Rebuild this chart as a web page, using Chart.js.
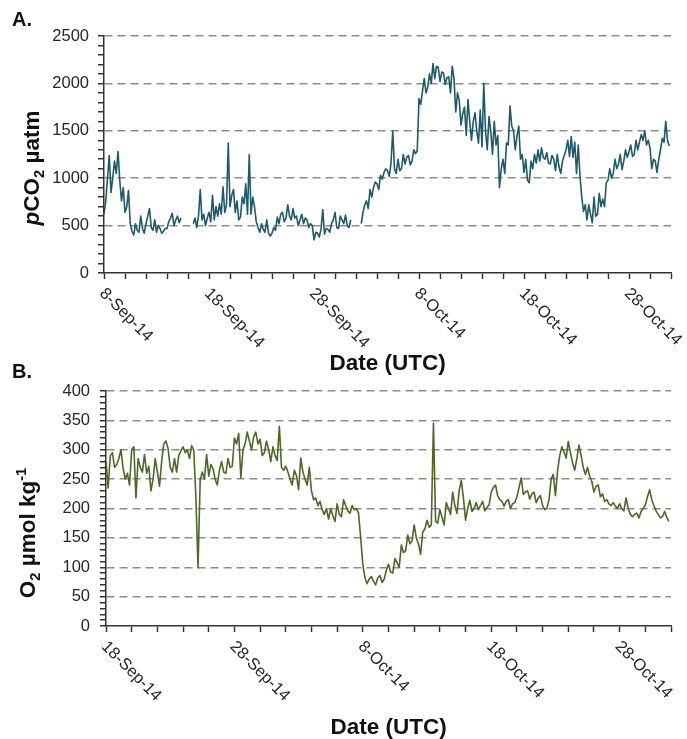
<!DOCTYPE html>
<html>
<head>
<meta charset="utf-8">
<title>pCO2 and O2 time series</title>
<script src="https://cdn.jsdelivr.net/npm/chart.js@4.4.1/dist/chart.umd.min.js"></script>
<style>
  html, body { margin: 0; padding: 0; background: #ffffff; }
  #wrap { position: relative; width: 687px; height: 739px; overflow: hidden; }
  .panel { position: absolute; left: 0; width: 687px; }
  #panelA { top: 0; height: 380px; }
  #panelB { top: 355px; height: 384px; }
</style>
</head>
<body>
<div id="wrap">
  <div class="panel" id="panelA"><canvas id="chartA"></canvas></div>
  <div class="panel" id="panelB"><canvas id="chartB"></canvas></div>
</div>
<script>
// ---- Data -----------------------------------------------------------------
// Readings every 4 hours (6 per day) starting at 00:00 UTC of the start date.
// Each row below is one day. null marks periods without data.
const sampleStepDays = 1 / 6;

// Panel A: seawater pCO2 (µatm), from 8-Sep-14
const pco2Start = '8-Sep-14';
const pco2 = [
  620, 760, 1000, 1240, 850, 1000,
  1180, 1050, 1280, 980, 760, 900,
  640, 700, 870, 520, 440, 400,
  520, 450, 430, 600, 470, 420,
  520, 600, 680, 480, 450, 560,
  430, 500, 470, 420, 440, 470,
  470, 540, 580, 630, 500, 560,
  600, 530, 580, null, null, null,
  null, null, null, 520, 580, 480,
  600, 880, 560, 620, 500, 580,
  640, 540, 820, 560, 700, 600,
  730, 620, 910, 640, 720, 1370,
  700, 820, 880, 640, 760, 560,
  590, 800, 730, 940, 620, 1250,
  620, 800, 700, 540, 480, 430,
  520, 460, 430, 560, 420, 390,
  420, 480, 450, 590, 520, 620,
  640, 540, 580, 720, 600, 560,
  680, 580, 600, 500, 560, 620,
  520, 580, 560, 480, 520, 500,
  350, 430, 420, 380, 460, 670,
  410, 470, 460, 430, 520, 560,
  640, 480, 470, 600, 560, 520,
  610, 500, 480, 560, null, null,
  null, null, null, 520, 640, 720,
  760, 680, 880, 800, 900, 960,
  940, 880, 1030, 990, 1060, 1100,
  1080, 1020, 1160, 1500, 1100, 1050,
  1200, 1080, 1100, 1250, 1150, 1220,
  1240, 1140, 1180, 1300, 1260, 1290,
  1840, 1780, 1920, 2050, 1900, 1960,
  2100, 2000, 2210, 2050, 2180, 2170,
  2020, 2120, 2110, 1990, 2060, 2070,
  1900, 2180, 2050, 1700, 1900, 1820,
  1560, 1680, 1750, 1450, 1830, 1600,
  1400, 1600, 1690, 1500, 1370, 1720,
  1330, 2000, 1500, 1300, 1650, 1500,
  1250, 1600, 1350, 1450, 900, 1100,
  1200, 1050, 1370, 1350, 1760, 1550,
  1500, 1300, 1450, 1550, 1200, 1250,
  1060, 1200, 980, 950, 1180, 1100,
  1250, 1160, 1300, 1180, 1320, 1220,
  1200, 1270, 1160, 1150, 1240, 1200,
  1080, 1250, 1120, 1050, 1180, 1240,
  1300, 1400, 1230, 1440, 1220, 1380,
  1050, 1350, 1020, 800, 650, 720,
  560, 720, 620, 530, 800, 600,
  620, 840, 700, 780, 700, 950,
  980, 1100, 1000, 1050, 1200, 1100,
  1150, 1250, 1090, 1180, 1300, 1220,
  1280, 1350, 1230, 1250, 1400, 1300,
  1380, 1460, 1400, 1500, 1350, 1400,
  1320, 1100, 1200, 1180, 1060, 1200,
  1300, 1420, 1380, 1600, 1400, 1340
];

// Panel B: dissolved oxygen (µmol kg-1), from 18-Sep-14
const o2Start = '18-Sep-14';
const o2 = [
  280, 235, 290, 295, 270, 275,
  285, 300, 268, 250, 260, 240,
  300, 305, 218, 285, 270, 262,
  292, 260, 272, 230, 250, 285,
  262, 238, 280, 310, 315, 302,
  270, 262, 285, 262, 290, 298,
  305, 295, 300, 285, 307, 300,
  220, 99, 248, 262, 250, 292,
  255, 275, 268, 250, 240, 265,
  280, 262, 260, 285, 270, 272,
  320, 310, 328, 252, 300, 310,
  330, 315, 300, 322, 330, 310,
  318, 290, 295, 315, 300, 280,
  305, 290, 282, 340, 270, 265,
  272, 262, 250, 240, 265, 256,
  232, 286, 262, 250, 240, 270,
  230, 215, 218, 205, 212, 198,
  190, 200, 182, 200, 188, 178,
  208, 190, 186, 215, 205, 196,
  192, 205, 198, 200, 192, 150,
  105, 82, 72, 80, 84, 76,
  70, 82, 86, 74, 80, 95,
  105, 92, 90, 115, 108, 100,
  138, 125, 128, 155, 140, 145,
  172, 150, 140, 122, 160, 165,
  180, 168, 172, 345, 178, 175,
  198, 185, 172, 210, 200, 190,
  228, 205, 192, 230, 248, 218,
  180, 200, 214, 195, 200, 210,
  198, 205, 212, 196, 202, 206,
  228, 236, 240, 222, 215, 212,
  204, 212, 215, 200, 208, 210,
  220, 236, 252, 224, 228, 230,
  216, 225, 228, 210, 218, 222,
  205, 198, 200, 215, 250, 258,
  222, 265, 290, 305, 296, 286,
  314, 295, 278, 265, 285, 308,
  290, 270, 258, 270, 255, 246,
  228, 238, 240, 220, 225, 212,
  215, 208, 205, 210, 204, 200,
  208, 200, 196, 218, 200, 190,
  186, 190, 192, 184, 195, 200,
  206, 220, 232, 215, 205, 196,
  190, 184, 186, 195, 185, 178
];

// Axis extents and labelled dates
const pco2AxisStart = '8-Sep-14';
const pco2AxisEnd = '1-Nov-14';
const pco2DateTicks = ['8-Sep-14', '18-Sep-14', '28-Sep-14', '8-Oct-14', '18-Oct-14', '28-Oct-14'];
const o2AxisStart = '18-Sep-14';
const o2AxisEnd = '1-Nov-14';
const o2DateTicks = ['18-Sep-14', '28-Sep-14', '8-Oct-14', '18-Oct-14', '28-Oct-14'];

// ---- Helpers ----------------------------------------------------------------
const FONT = "'Liberation Sans', Arial, Helvetica, sans-serif";
const MONTHS = { Jan: 0, Feb: 1, Mar: 2, Apr: 3, May: 4, Jun: 5, Jul: 6, Aug: 7, Sep: 8, Oct: 9, Nov: 10, Dec: 11 };
const EPOCH = Date.UTC(2014, 8, 1);

// '8-Sep-14' -> days since 1 Sep 2014
function dayOf(label) {
  const [d, mon, yy] = label.split('-');
  return (Date.UTC(2000 + Number(yy), MONTHS[mon], Number(d)) - EPOCH) / 86400000;
}

function toPoints(startLabel, values) {
  const t0 = dayOf(startLabel);
  return values.map((v, i) => ({ x: t0 + i * sampleStepDays, y: v }));
}

// Draws a run of text pieces (italic / subscript / superscript) centred on 0
function drawRich(ctx, pieces, size) {
  const fontFor = p => {
    const s = (p.sub || p.sup) ? size * 0.65 : size;
    return (p.italic ? 'italic ' : '') + 'bold ' + s + 'px ' + FONT;
  };
  let total = 0;
  pieces.forEach(p => { ctx.font = fontFor(p); total += ctx.measureText(p.t).width; });
  let x = -total / 2;
  ctx.textAlign = 'left';
  ctx.textBaseline = 'alphabetic';
  pieces.forEach(p => {
    ctx.font = fontFor(p);
    const dy = p.sub ? size * 0.22 : (p.sup ? -size * 0.38 : 0);
    ctx.fillText(p.t, x, dy);
    x += ctx.measureText(p.t).width;
  });
}

function decorPlugin(opt) {
  return {
    id: 'decor',
    afterDraw(chart) {
      const { ctx, chartArea } = chart;
      const xs = chart.scales.x;
      ctx.save();
      ctx.fillStyle = '#262626';

      // rotated date labels under the axis
      ctx.font = '16.5px ' + FONT;
      ctx.textAlign = 'left';
      ctx.textBaseline = 'middle';
      opt.dateTicks.forEach(lbl => {
        const px = xs.getPixelForValue(dayOf(lbl));
        ctx.save();
        ctx.translate(px - 2, chartArea.bottom + 18);
        ctx.rotate(Math.PI / 4);
        ctx.fillText(lbl, 0, 0);
        ctx.restore();
      });

      ctx.fillStyle = '#111111';
      // x-axis title
      ctx.font = 'bold 22.5px ' + FONT;
      ctx.textAlign = 'center';
      ctx.textBaseline = 'middle';
      ctx.fillText('Date (UTC)', (chartArea.left + chartArea.right) / 2, opt.xTitleY);

      // y-axis title
      ctx.save();
      ctx.translate(opt.yTitleX, opt.yTitleY);
      ctx.rotate(-Math.PI / 2);
      drawRich(ctx, opt.yTitle, 22.5);
      ctx.restore();

      // panel letter
      ctx.font = 'bold 20px ' + FONT;
      ctx.textAlign = 'left';
      ctx.textBaseline = 'middle';
      ctx.fillText(opt.letter, 12, opt.letterY);
      ctx.restore();
    }
  };
}

function makeChart(canvasId, cfg) {
  return new Chart(document.getElementById(canvasId), {
    type: 'line',
    data: {
      datasets: [{
        data: toPoints(cfg.start, cfg.values),
        borderColor: cfg.color,
        borderWidth: 1.6,
        borderJoinStyle: 'round',
        pointRadius: 0,
        tension: 0,
        spanGaps: false,
        fill: false
      }]
    },
    options: {
      responsive: true,
      maintainAspectRatio: false,
      animation: false,
      events: [],
      layout: { padding: { left: 0, right: 16, top: cfg.top, bottom: 0 } },
      plugins: { legend: { display: false }, tooltip: { enabled: false } },
      scales: {
        x: {
          type: 'linear',
          min: dayOf(cfg.axisStart),
          max: dayOf(cfg.axisEnd),
          ticks: { display: false, stepSize: 2, autoSkip: false },
          grid: {
            drawOnChartArea: false, drawTicks: true, tickLength: 6,
            tickWidth: 1.5, tickColor: '#333333', color: '#333333'
          },
          border: { display: true, color: '#333333', width: 1.5 },
          afterFit: s => { s.height = cfg.xHeight; }
        },
        y: {
          min: 0,
          max: cfg.yMax,
          ticks: {
            stepSize: cfg.minorStep,
            autoSkip: false,
            padding: cfg.labelPad,
            color: '#262626',
            font: { family: FONT, size: 16.5 },
            callback: v => (v % cfg.majorStep === 0 ? String(v) : '')
          },
          grid: {
            color: c => (c.tick && c.tick.value > 0 && c.tick.value % cfg.majorStep === 0) ? '#8c8c8c' : 'rgba(0,0,0,0)',
            lineWidth: 1.5,
            drawTicks: true,
            tickLength: 6,
            tickWidth: 1.5,
            tickColor: '#333333'
          },
          border: { display: true, color: '#333333', width: 1.5, dash: [8, 5] },
          afterFit: s => { s.width = cfg.yWidth; }
        }
      }
    },
    plugins: [decorPlugin(cfg)]
  });
}

makeChart('chartA', {
  start: pco2Start, values: pco2, color: '#1e5a69',
  axisStart: pco2AxisStart, axisEnd: pco2AxisEnd, dateTicks: pco2DateTicks,
  yMax: 2500, majorStep: 500, minorStep: 100,
  top: 36, xHeight: 380 - 273, yWidth: 104, labelPad: 9,
  xTitleY: 364, yTitleX: 39, yTitleY: 168,
  yTitle: [{ t: 'p', italic: true }, { t: 'CO' }, { t: '2', sub: true }, { t: ' µatm' }],
  letter: 'A.', letterY: 20
});

makeChart('chartB', {
  start: o2Start, values: o2, color: '#4e6826',
  axisStart: o2AxisStart, axisEnd: o2AxisEnd, dateTicks: o2DateTicks,
  yMax: 400, majorStep: 50, minorStep: 10,
  top: 36, xHeight: 384 - 271, yWidth: 106, labelPad: 10,
  xTitleY: 373, yTitleX: 35, yTitleY: 178,
  yTitle: [{ t: 'O' }, { t: '2', sub: true }, { t: ' µmol kg' }, { t: '-1', sup: true }],
  letter: 'B.', letterY: 17
});
</script>
</body>
</html>
